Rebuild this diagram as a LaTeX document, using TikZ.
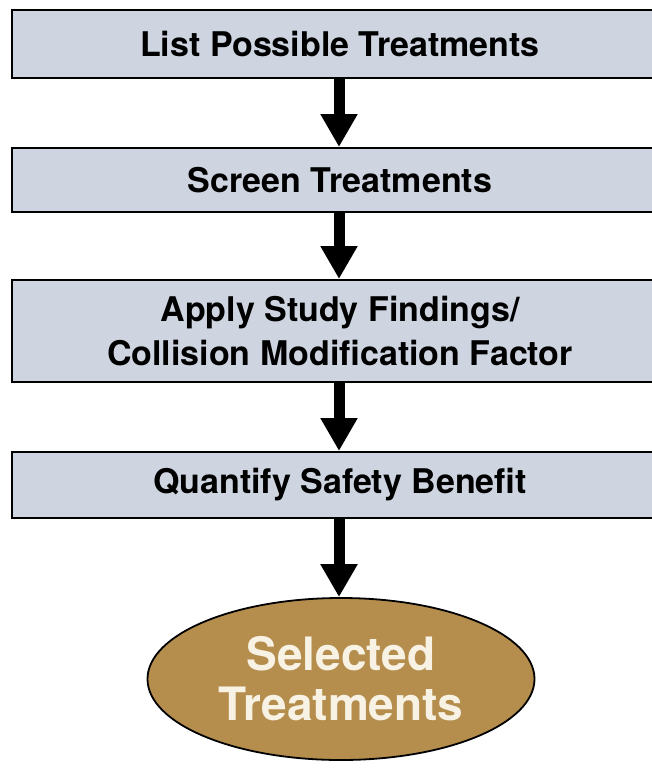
\documentclass[tikz,border=0pt]{standalone}
\usepackage{fontspec}
\setmainfont{TeX Gyre Heros}
\usetikzlibrary{shapes.geometric,arrows.meta}
\definecolor{boxfill}{RGB}{206,213,224}
\definecolor{ovalfill}{RGB}{181,142,78}
\definecolor{ovaltext}{RGB}{247,242,228}
\tikzset{
  stepbox/.style={draw=black, line width=2pt, fill=boxfill, rectangle, minimum width=656pt, inner sep=0pt, align=center, font=\fontsize{34}{44}\selectfont\bfseries},
  flow/.style={line width=11pt, -{Triangle[width=35pt,length=33pt]}},
}
\begin{document}
\begin{tikzpicture}[x=1pt,y=-1pt]
\useasboundingbox (0,0) rectangle (651,768);
\node[stepbox, minimum height=68pt] (a) at (340,44) {List Possible Treatments};
\node[stepbox, minimum height=64pt] (b) at (340,180) {Screen Treatments};
\node[stepbox, minimum height=102pt] (c) at (340,331) {Apply Study Findings/\\Collision Modification Factor};
\node[stepbox, minimum height=66pt] (d) at (340,485) {Quantify Safety Benefit};
\node[ellipse, draw=black, line width=1.8pt, fill=ovalfill, minimum width=387pt, minimum height=162pt, inner sep=0pt, align=center, text=ovaltext, font=\fontsize{46}{50}\selectfont\bfseries] (e) at (341,679) {Selected\\Treatments};
\draw[flow] (a.south -| 339,0) -- (b.north -| 339,0);
\draw[flow] (b.south -| 339,0) -- (c.north -| 339,0);
\draw[flow] (c.south -| 339,0) -- (d.north -| 339,0);
\draw[flow] (d.south -| 339,0) -- (e.north -| 339,0);
\end{tikzpicture}
\end{document}
